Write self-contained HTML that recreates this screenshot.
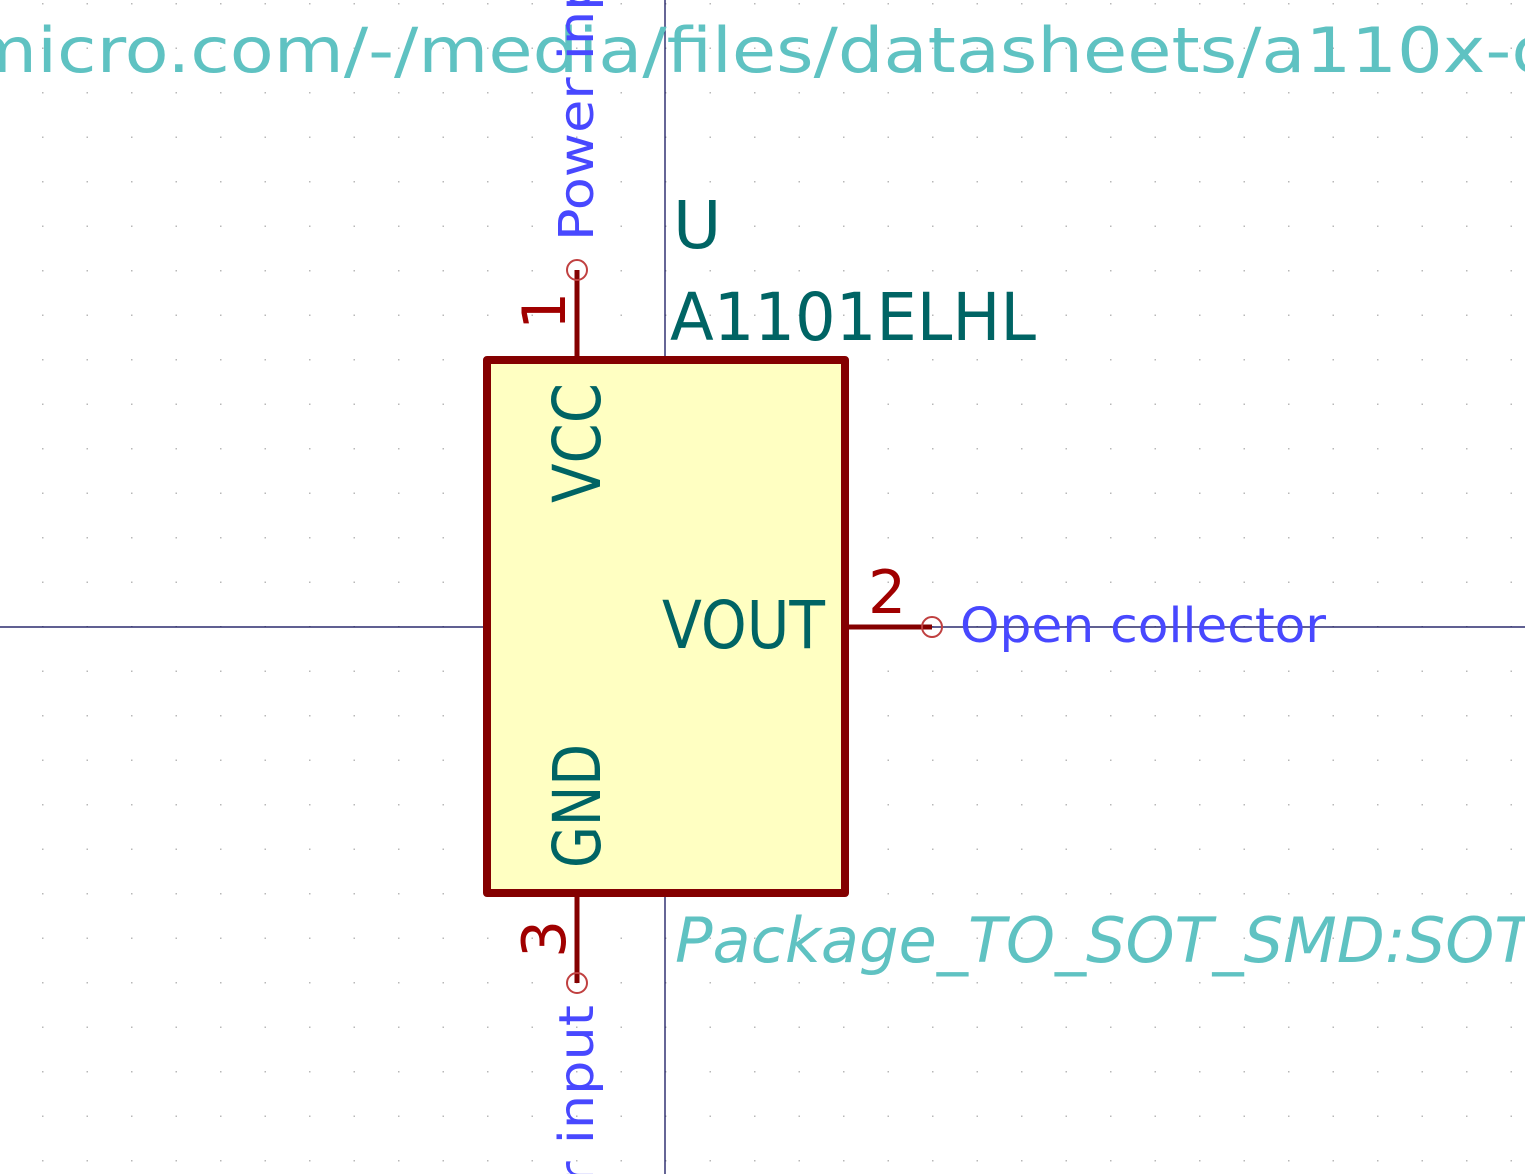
<!DOCTYPE html>
<html><head><meta charset="utf-8"><style>
html,body{margin:0;padding:0;background:#fff;width:1525px;height:1174px;overflow:hidden;}
svg{display:block}
text{font-family:"DejaVu Sans","Liberation Sans",sans-serif;}
</style></head><body>
<svg width="1525" height="1174" viewBox="0 0 1525 1174" xmlns="http://www.w3.org/2000/svg" overflow="hidden">
<defs>
<pattern id="g" x="42" y="3" width="44.5" height="44.5" patternUnits="userSpaceOnUse">
<rect x="0" y="0" width="1.5" height="1.5" fill="#b8b8b8"/>
</pattern>
</defs>
<rect width="1525" height="1174" fill="#fff"/>
<rect width="1525" height="1174" fill="url(#g)"/>
<line x1="665" y1="0" x2="665" y2="1174" stroke="#000050" stroke-width="1.2"/>
<line x1="0" y1="627" x2="1525" y2="627" stroke="#000050" stroke-width="1.2"/>

<text x="-33" y="72" font-size="62" fill="#5fc2c2" textLength="1590" lengthAdjust="spacingAndGlyphs">micro.com/-/media/files/datasheets/a110x-d</text>

<rect x="487" y="360" width="358" height="533" fill="#ffffc2" stroke="#840000" stroke-width="8" stroke-linejoin="round"/>
<line x1="577" y1="270" x2="577" y2="357" stroke="#840000" stroke-width="5"/>
<line x1="848" y1="627" x2="932" y2="627" stroke="#840000" stroke-width="5"/>
<line x1="577" y1="896" x2="577" y2="983" stroke="#840000" stroke-width="5"/>
<circle cx="577" cy="270" r="10" fill="none" stroke="#c04040" stroke-width="2"/>
<circle cx="932" cy="627" r="10" fill="none" stroke="#c04040" stroke-width="2"/>
<circle cx="577" cy="983" r="10" fill="none" stroke="#c04040" stroke-width="2"/>

<text x="673" y="248" font-size="66" fill="#006464">U</text>
<text x="670" y="340" font-size="66" fill="#006464" textLength="366" lengthAdjust="spacingAndGlyphs">A1101ELHL</text>
<text x="662" y="648" font-size="66" fill="#006464" textLength="163" lengthAdjust="spacingAndGlyphs">VOUT</text>
<text transform="translate(600,503) rotate(-90)" font-size="66" fill="#006464" textLength="120" lengthAdjust="spacingAndGlyphs">VCC</text>
<text transform="translate(600,868) rotate(-90)" font-size="66" fill="#006464" textLength="124" lengthAdjust="spacingAndGlyphs">GND</text>

<text transform="translate(565,330) rotate(-90)" font-size="60" fill="#a00000">1</text>
<text x="868" y="613" font-size="60" fill="#a00000">2</text>
<text transform="translate(565,958) rotate(-90)" font-size="60" fill="#a00000">3</text>

<text transform="translate(593,241) rotate(-90)" font-size="48" fill="#4848ff" textLength="320" lengthAdjust="spacingAndGlyphs">Power input</text>
<text transform="translate(593,1005) rotate(-90)" font-size="48" fill="#4848ff" text-anchor="end" textLength="320" lengthAdjust="spacingAndGlyphs">Power input</text>
<text x="960" y="642" font-size="48" fill="#4848ff" textLength="366" lengthAdjust="spacingAndGlyphs">Open collector</text>

<text x="675" y="962" font-size="62" font-style="italic" fill="#5fc2c2" textLength="950" lengthAdjust="spacingAndGlyphs">Package_TO_SOT_SMD:SOT-23</text>
</svg>
</body></html>
